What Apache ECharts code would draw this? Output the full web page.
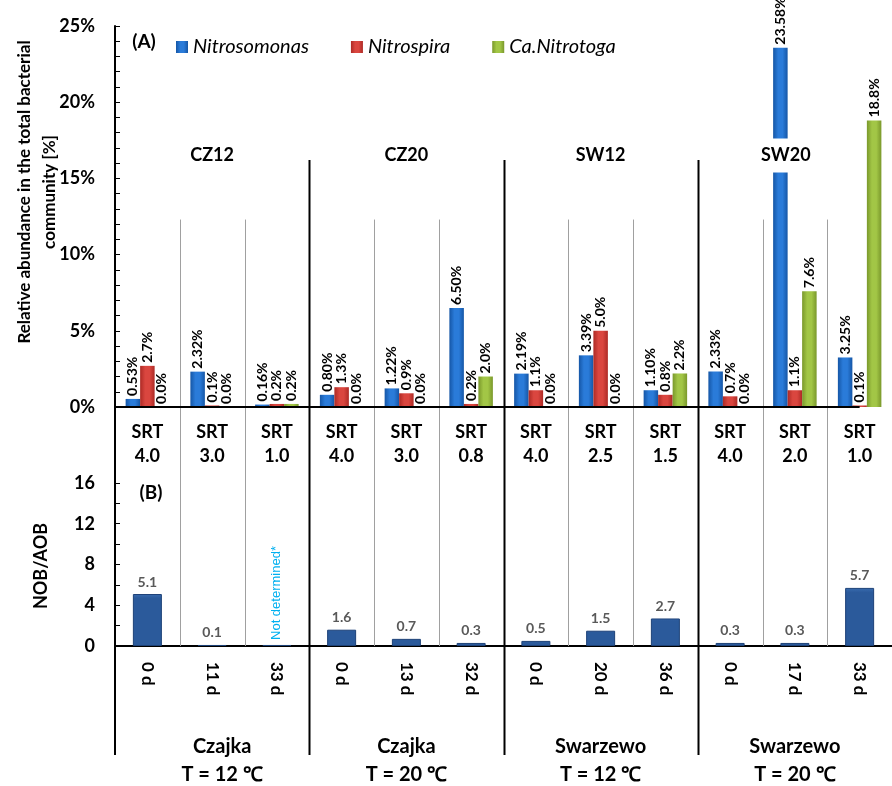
<!DOCTYPE html>
<html><head><meta charset="utf-8">
<script src="https://cdn.jsdelivr.net/npm/echarts@6/dist/echarts.min.js"></script>
<style>html,body{margin:0;padding:0;background:#fff}#c{width:892px;height:786px}</style>
</head><body><div id="c"></div>
<script>
// ---- data ----
const samplingDays = ['0 d','11 d','33 d','0 d','13 d','32 d','0 d','20 d','36 d','0 d','17 d','33 d'];
const srtLabels = ['SRT\n4.0','SRT\n3.0','SRT\n1.0','SRT\n4.0','SRT\n3.0','SRT\n0.8','SRT\n4.0','SRT\n2.5','SRT\n1.5','SRT\n4.0','SRT\n2.0','SRT\n1.0'];
const nitrosomonas = [0.53,2.32,0.16,0.80,1.22,6.50,2.19,3.39,1.10,2.33,23.58,3.25];
const nitrospira   = [2.7,0.1,0.2,1.3,0.9,0.2,1.1,5.0,0.8,0.7,1.1,0.1];
const nitrotoga    = [0.0,0.0,0.2,0.0,0.0,2.0,0.0,0.0,2.2,0.0,7.6,18.8];
const nobAob       = [5.1,0.1,0.1,1.6,0.7,0.3,0.5,1.5,2.7,0.3,0.3,5.7];
const nobAobLabels = ['5.1','0.1','Not determined*','1.6','0.7','0.3','0.5','1.5','2.7','0.3','0.3','5.7'];
const reactorCodes = ['CZ12','CZ20','SW12','SW20'];
const plantNames   = ['Czajka\nT = 12 ℃','Czajka\nT = 20 ℃','Swarzewo\nT = 12 ℃','Swarzewo\nT = 20 ℃'];
const seriesNames  = ['Nitrosomonas','Nitrospira','Ca.Nitrotoga'];
const bottomTickLabels = [0,4,8,12,16];
const bottomMinorTicks = [0,2,4,6,8,10,12,14,16];

const FONT = 'Lato, "Open Sans", sans-serif';
function grad(edge, mid){
  return new echarts.graphic.LinearGradient(0,0,1,0,[
    {offset:0,color:edge},{offset:0.35,color:mid},{offset:0.65,color:mid},{offset:1,color:edge}]);
}
const colors = [grad('#1556a6','#2a7bd9'), grad('#ad2a25','#da463f'), grad('#7a982b','#a2c646')];

const chart = echarts.init(document.getElementById('c'), null, {renderer:'canvas'});

const topLabel = (decimals) => ({
  show:true, position:'top', rotate:90, align:'left', verticalAlign:'middle', distance:3,
  formatter: p => p.value.toFixed(decimals) + '%',
  fontFamily:FONT, fontWeight:'bold', fontSize:14, color:'#000'
});

const option = {
  animation:false,
  backgroundColor:'#fff',
  legend:{
    data:seriesNames, left:171, top:32, itemWidth:12, itemHeight:12, itemGap:42, icon:'rect',
    textStyle:{fontFamily:FONT, fontStyle:'italic', fontSize:20, color:'#000'}
  },
  grid:[
    {left:115, top:26, width:781, height:381},
    {left:115, top:407, width:781, height:239}
  ],
  xAxis:[
    {type:'category', gridIndex:0, data:srtLabels, axisLine:{show:false}, axisTick:{show:false},
     axisLabel:{interval:0, margin:13, fontFamily:FONT, fontWeight:'bold', fontSize:18, lineHeight:24, color:'#000'}},
    {type:'category', gridIndex:1, data:samplingDays, axisLine:{show:true, lineStyle:{color:'#000', width:2}}, axisTick:{show:false},
     axisLabel:{interval:0, rotate:-90, margin:16, fontFamily:FONT, fontWeight:'bold', fontSize:17, color:'#000'}}
  ],
  yAxis:[
    {type:'value', gridIndex:0, min:0, max:25, interval:5,
     axisLine:{show:true, lineStyle:{color:'#000', width:2}},
     axisTick:{show:true, inside:true, length:5, lineStyle:{color:'#000'}},
     minorTick:{show:true, splitNumber:5, length:5, lineStyle:{color:'#000'}},
     splitLine:{show:false},
     axisLabel:{margin:20, formatter:'{value}%', fontFamily:FONT, fontWeight:'bold', fontSize:18, color:'#000'}},
    {type:'value', gridIndex:1, min:0, max:23.45,
     axisLine:{show:true, lineStyle:{color:'#000', width:2}},
     axisTick:{show:true, inside:true, length:5, customValues:bottomMinorTicks, lineStyle:{color:'#000'}},
     splitLine:{show:false},
     axisLabel:{margin:20, customValues:bottomTickLabels, fontFamily:FONT, fontWeight:'bold', fontSize:18, color:'#000'}}
  ],
  series:[
    {name:seriesNames[0], type:'bar', xAxisIndex:0, yAxisIndex:0, data:nitrosomonas, barWidth:14.5, barGap:'0%',
     itemStyle:{color:colors[0]}, label:topLabel(2)},
    {name:seriesNames[1], type:'bar', xAxisIndex:0, yAxisIndex:0, data:nitrospira, barWidth:14.5, barGap:'0%',
     itemStyle:{color:colors[1]}, label:topLabel(1)},
    {name:seriesNames[2], type:'bar', xAxisIndex:0, yAxisIndex:0, data:nitrotoga, barWidth:14.5, barGap:'0%',
     itemStyle:{color:colors[2]}, label:topLabel(1)},
    {name:'NOB/AOB', type:'bar', xAxisIndex:1, yAxisIndex:1, barWidth:29,
     data: nobAob.map((v,i)=>{
       const item = {value:v};
       if (nobAobLabels[i] === 'Not determined*') {
         item.label = {rotate:90, align:'left', verticalAlign:'middle', distance:5, color:'#00b0f0',
                       fontWeight:'normal', fontFamily:'"Liberation Sans", Arial, sans-serif', fontSize:13};
       }
       return item;
     }),
     itemStyle:{color:new echarts.graphic.LinearGradient(0,0,0,1,[{offset:0,color:'#3a6db0'},{offset:0.08,color:'#2b5a9b'},{offset:1,color:'#2b5a9b'}]),
                borderColor:'#1d4177', borderWidth:1},
     label:{show:true, position:'top', distance:5, formatter:p=>nobAobLabels[p.dataIndex],
            fontFamily:FONT, fontWeight:'bold', fontSize:14, color:'#595959'}}
  ]
};
chart.setOption(option);

// ---- decorations computed from the axes ----
const px = i => chart.convertToPixel({xAxisIndex:0}, i);
const py0 = v => chart.convertToPixel({yAxisIndex:0}, v);
const py1 = v => chart.convertToPixel({yAxisIndex:1}, v);
const colW = px(1) - px(0);
const leftX = px(0) - colW/2;
const base0 = py0(0), base1 = py1(0);
const bottomEnd = base1 + 109;
const els = [];
for (let k=1; k<12; k++){
  const x = Math.round((px(k-1)+px(k))/2) + 0.5;
  const thick = k % 3 === 0;
  const yTop = thick ? py0(16.2) : py0(12.3);
  const yBot = thick ? bottomEnd : base1;
  els.push({type:'line', z:1, shape:{x1:x, y1:yTop, x2:x, y2:yBot},
            style:{stroke: thick ? '#000' : '#a0a0a0', lineWidth: thick ? 2 : 1}});
}
// left axis extension & top baseline
els.push({type:'line', z:5, shape:{x1:leftX, y1:base1, x2:leftX, y2:bottomEnd}, style:{stroke:'#000', lineWidth:2}});
els.push({type:'line', z:5, shape:{x1:leftX, y1:base0, x2:px(11), y2:base0}, style:{stroke:'#000', lineWidth:2}});
// reactor codes
reactorCodes.forEach((t,g)=>{
  els.push({type:'text', z:100, x:px(3*g+1) - (g===3 ? 9 : 0), y:py0(16.5),
    style:{text:t, fill:'#000', font:'bold 18px '+FONT, align:'center', verticalAlign:'middle',
           backgroundColor: g===3 ? '#fff' : null, padding:[8,4,8,4]}});
});
// plant names
plantNames.forEach((t,g)=>{
  els.push({type:'text', z:100, x:px(3*g+1) + (g===0 ? 10 : 0), y:bottomEnd - 22,
    style:{text:t, fill:'#000', font:'bold 20px '+FONT, align:'center', verticalAlign:'top', lineHeight:28}});
});
// panel tags
els.push({type:'text', z:100, x:144, y:42, style:{text:'(A)', fill:'#000', font:'bold 19px '+FONT, align:'center', verticalAlign:'middle'}});
els.push({type:'text', z:100, x:151, y:493, style:{text:'(B)', fill:'#000', font:'bold 19px '+FONT, align:'center', verticalAlign:'middle'}});
// axis titles
els.push({type:'text', z:100, x:37, y:192, rotation:Math.PI/2,
  style:{text:'Relative abundance in the total bacterial\ncommunity [%]', fill:'#000', font:'bold 17px '+FONT,
         align:'center', verticalAlign:'middle', lineHeight:25}});
els.push({type:'text', z:100, x:41, y:566, rotation:Math.PI/2,
  style:{text:'NOB/AOB', fill:'#000', font:'bold 18px '+FONT, align:'center', verticalAlign:'middle'}});
chart.setOption({graphic:{elements:els}});
</script>
</body></html>
